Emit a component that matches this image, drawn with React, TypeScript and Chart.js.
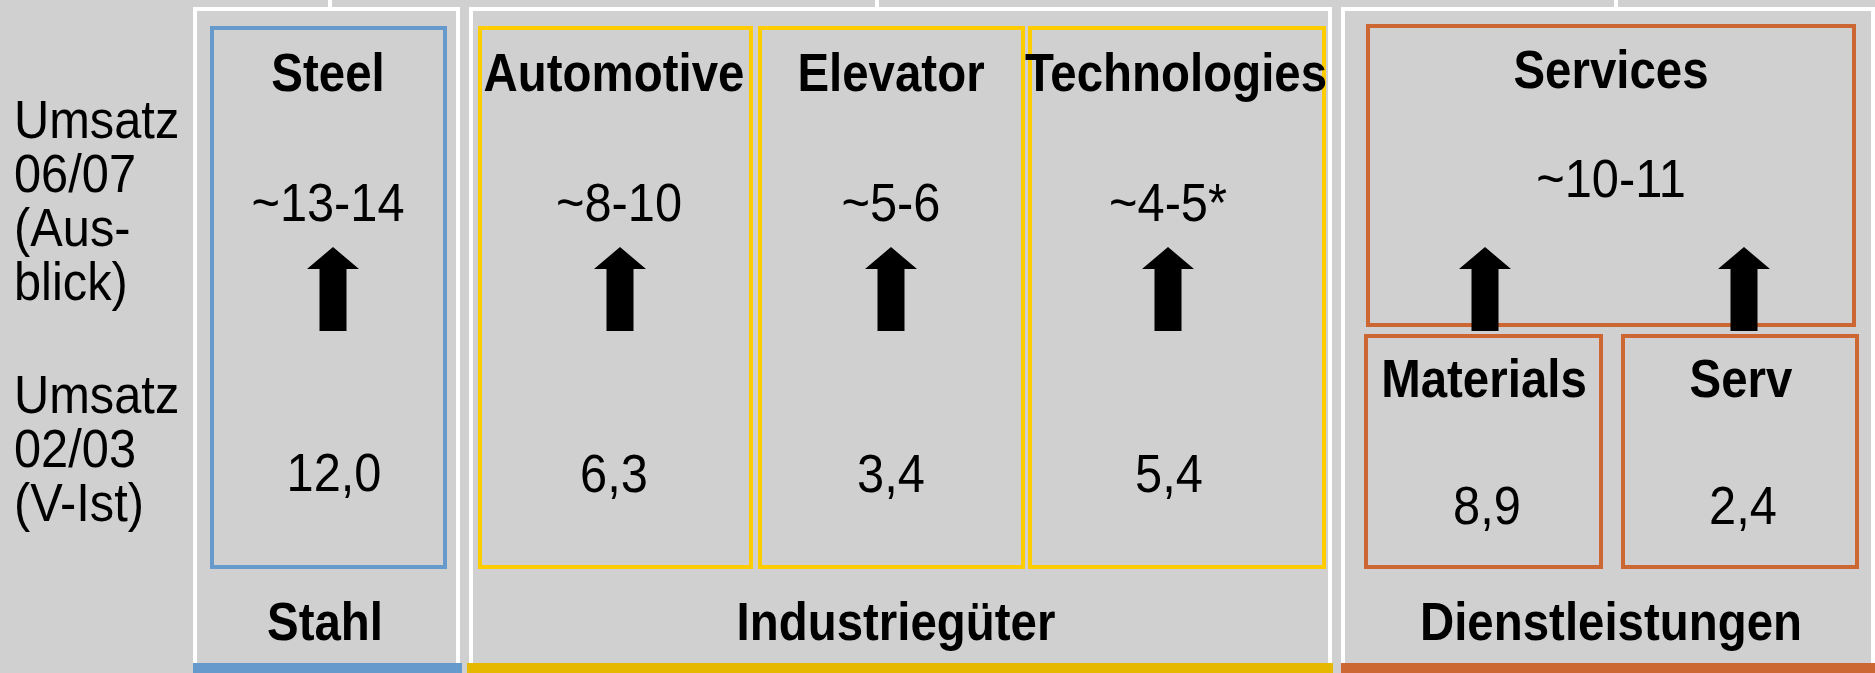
import React, { useEffect, useRef } from "react";
import { Chart, registerables } from "chart.js";

Chart.register(...registerables);

// ---- data ----
const segments = ["Steel", "Automotive", "Elevator", "Technologies", "Services", "Materials", "Serv"];
const outlookLow = [13, 8, 5, 4, 10];
const outlookHigh = [14, 10, 6, 5, 11];
const outlookNote = ["", "", "", "*", ""];
const actualSales = [12.0, 6.3, 3.4, 5.4, 8.9, 2.4];
const groups = ["Stahl", "Industriegüter", "Dienstleistungen"];
const rowLabelOutlook = ["Umsatz", "06/07", "(Aus-", "blick)"];
const rowLabelActual = ["Umsatz", "02/03", "(V-Ist)"];

// ---- layout (positions / styles, kept apart from the data) ----
const W = 1875;
const H = 673;
const BG = "#d0d0d0";
const BLUE = "#6699cc";
const YELLOW = "#ffcc00";
const GOLD = "#e6b800";
const ORANGE = "#cc6633";

const groupLayout = [
  { x0: 195, x1: 458, tick: 330, bar0: 193, bar1: 462, color: BLUE, labelX: 325 },
  { x0: 471, x1: 1330, tick: 877, bar0: 467, bar1: 1333, color: GOLD, labelX: 896 },
  { x0: 1343, x1: 1873, tick: 1616, bar0: 1341, bar1: 1875, color: ORANGE, labelX: 1611 },
];
const segLayout = [
  { x0: 212, x1: 445, y0: 28, y1: 567, tx: 328, ty: 91, color: BLUE },
  { x0: 480, x1: 751, y0: 28, y1: 567, tx: 614, ty: 91, color: YELLOW },
  { x0: 760, x1: 1023, y0: 28, y1: 567, tx: 891, ty: 91, color: YELLOW },
  { x0: 1030, x1: 1324, y0: 28, y1: 567, tx: 1176, ty: 91, color: YELLOW },
  { x0: 1368, x1: 1854, y0: 26, y1: 325, tx: 1611, ty: 88, color: ORANGE },
  { x0: 1366, x1: 1601, y0: 336, y1: 567, tx: 1484, ty: 397, color: ORANGE },
  { x0: 1623, x1: 1857, y0: 336, y1: 567, tx: 1741, ty: 397, color: ORANGE },
];
const outlookPos = [
  { x: 328, y: 221 },
  { x: 619, y: 221 },
  { x: 891, y: 221 },
  { x: 1168, y: 221 },
  { x: 1611, y: 197 },
];
const actualPos = [
  { x: 334, y: 491 },
  { x: 614, y: 492 },
  { x: 891, y: 492 },
  { x: 1169, y: 492 },
  { x: 1487, y: 524 },
  { x: 1743, y: 524 },
];
const arrowX = [333, 620, 891, 1168, 1485, 1744];
const ARROW = { tip: 247, headBase: 269, bottom: 331, headHalf: 26, shaftHalf: 13.5 };

const FONT = '"Liberation Sans", Arial, sans-serif';
const SIZE = 53;

function fmtDe(v: number) {
  return v.toFixed(1).replace(".", ",");
}

const diagramPlugin = {
  id: "diagram",
  beforeDraw(chart: any) {
    const ctx = chart.ctx;
    ctx.save();
    ctx.fillStyle = BG;
    ctx.fillRect(0, 0, chart.width, chart.height);
    ctx.restore();
  },
  afterDraw(chart: any) {
    const ctx: CanvasRenderingContext2D = chart.ctx;
    const xs = chart.scales.x;
    const ys = chart.scales.y;
    const px = (v: number) => xs.getPixelForValue(v);
    const py = (v: number) => ys.getPixelForValue(v);

    const text = (s: string, x: number, y: number, bold: boolean, align: CanvasTextAlign) => {
      ctx.save();
      ctx.translate(px(x), py(y));
      ctx.scale(bold ? 0.895 : 0.92, 1);
      ctx.font = `${bold ? "bold " : ""}${SIZE}px ${FONT}`;
      ctx.fillStyle = "#000000";
      ctx.textAlign = align;
      ctx.textBaseline = "alphabetic";
      ctx.fillText(s, 0, 0);
      ctx.restore();
    };

    ctx.save();
    ctx.strokeStyle = "#ffffff";
    ctx.lineWidth = 4;
    groupLayout.forEach((g) => {
      ctx.beginPath();
      ctx.moveTo(px(g.x0), py(H));
      ctx.lineTo(px(g.x0), py(9));
      ctx.lineTo(px(g.x1), py(9));
      ctx.lineTo(px(g.x1), py(H));
      ctx.stroke();
      ctx.beginPath();
      ctx.moveTo(px(g.tick), py(0));
      ctx.lineTo(px(g.tick), py(9));
      ctx.stroke();
    });
    groupLayout.forEach((g) => {
      ctx.fillStyle = g.color;
      ctx.fillRect(px(g.bar0), py(663), px(g.bar1) - px(g.bar0), py(H) - py(663));
    });
    segLayout.forEach((s) => {
      ctx.strokeStyle = s.color;
      ctx.lineWidth = 4;
      ctx.strokeRect(px(s.x0), py(s.y0), px(s.x1) - px(s.x0), py(s.y1) - py(s.y0));
    });
    ctx.fillStyle = "#000000";
    arrowX.forEach((cx) => {
      ctx.beginPath();
      ctx.moveTo(px(cx), py(ARROW.tip));
      ctx.lineTo(px(cx + ARROW.headHalf), py(ARROW.headBase));
      ctx.lineTo(px(cx + ARROW.shaftHalf), py(ARROW.headBase));
      ctx.lineTo(px(cx + ARROW.shaftHalf), py(ARROW.bottom));
      ctx.lineTo(px(cx - ARROW.shaftHalf), py(ARROW.bottom));
      ctx.lineTo(px(cx - ARROW.shaftHalf), py(ARROW.headBase));
      ctx.lineTo(px(cx - ARROW.headHalf), py(ARROW.headBase));
      ctx.closePath();
      ctx.fill();
    });
    ctx.restore();

    segments.forEach((name, i) => text(name, segLayout[i].tx, segLayout[i].ty, true, "center"));
    outlookLow.forEach((lo, i) =>
      text(`~${lo}-${outlookHigh[i]}${outlookNote[i]}`, outlookPos[i].x, outlookPos[i].y, false, "center")
    );
    actualSales.forEach((v, i) => text(fmtDe(v), actualPos[i].x, actualPos[i].y, false, "center"));
    groups.forEach((g, i) => text(g, groupLayout[i].labelX, 640, true, "center"));
    rowLabelOutlook.forEach((l, i) => text(l, 14, 138 + i * 54, false, "left"));
    rowLabelActual.forEach((l, i) => text(l, 14, 413 + i * 54, false, "left"));
  },
};

export default function App() {
  const ref = useRef<HTMLCanvasElement | null>(null);
  useEffect(() => {
    document.body.style.margin = "0";
    document.body.style.background = BG;
    if (!ref.current) return;
    const chart = new Chart(ref.current, {
      type: "scatter",
      data: { datasets: [{ data: [], showLine: false, pointRadius: 0 }] },
      options: {
        animation: false,
        responsive: false,
        maintainAspectRatio: false,
        layout: { padding: 0 },
        plugins: { legend: { display: false }, tooltip: { enabled: false } },
        scales: {
          x: { type: "linear", min: 0, max: W, display: false },
          y: { type: "linear", min: 0, max: H, reverse: true, display: false },
        },
      },
      plugins: [diagramPlugin],
    });
    return () => chart.destroy();
  }, []);
  return (
    <div style={{ width: W, height: H, overflow: "hidden" }}>
      <canvas ref={ref} width={W} height={H} style={{ display: "block", width: W, height: H }} />
    </div>
  );
}
